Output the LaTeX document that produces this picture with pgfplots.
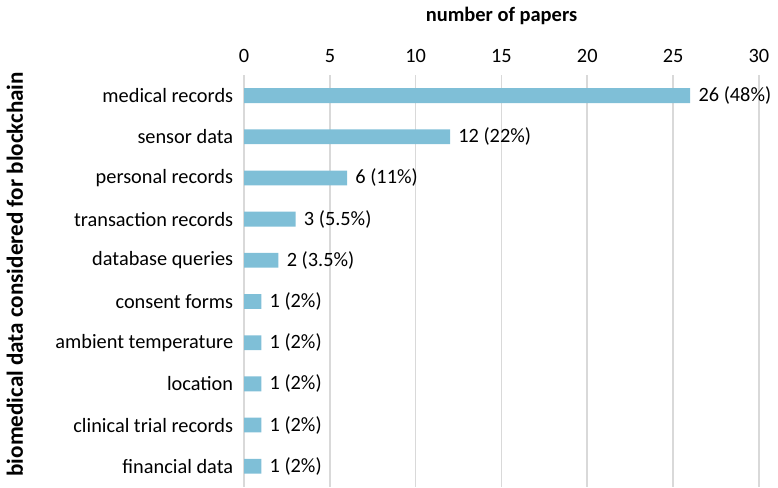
\documentclass[border=0pt]{standalone}
\usepackage{pgfplots}
\pgfplotsset{compat=1.18}
\usepackage{fontspec}
\setmainfont{Carlito}
\definecolor{barblue}{HTML}{7FBFD7}
\definecolor{gridgray}{HTML}{D9D9D9}
\begin{document}
\fontsize{15.4}{18}\selectfont
\begin{tikzpicture}
\begin{axis}[
  xbar,
  bar width=11.25pt,
  width=390pt, height=312pt,
  scale only axis,
  xmin=0, xmax=30,
  ymin=-0.5, ymax=9.5,
  y dir=reverse,
  xtick={0,5,...,30},
  ytick={0,...,9},
  yticklabels={medical records,sensor data,personal records,transaction records,database queries,consent forms,ambient temperature,location,clinical trial records,financial data},
  xticklabel pos=upper,
  xlabel near ticks,
  xlabel={\textbf{number of papers}},
  ylabel={\textbf{biomedical data considered for blockchain}},
  axis line style={draw=none},
  major tick length=0pt,
  xmajorgrids,
  grid style={gridgray, line width=1.2pt},
  tick label style={font=\fontsize{15.4}{18}\selectfont},
  xlabel style={font=\fontsize{15.5}{18}\selectfont, yshift=8.5pt},
  ylabel style={font=\fontsize{17.5}{20}\selectfont, xshift=5pt, yshift=14pt},
  /pgf/number format/assume math mode=true,
  yticklabel style={xshift=-3pt},
  xticklabel style={yshift=4pt},
  nodes near coords,
  point meta=explicit symbolic,
  every node near coord/.append style={font=\fontsize{15.4}{18}\selectfont, anchor=west, xshift=1pt},
  clip=false,
]
\addplot[fill=barblue, draw=none] coordinates {
  (26,0) [26 (48\%)]
  (12,1) [12 (22\%)]
  (6,2) [6 (11\%)]
  (3,3) [3 (5.5\%)]
  (2,4) [2 (3.5\%)]
  (1,5) [1 (2\%)]
  (1,6) [1 (2\%)]
  (1,7) [1 (2\%)]
  (1,8) [1 (2\%)]
  (1,9) [1 (2\%)]
};
\end{axis}
\end{tikzpicture}
\end{document}
